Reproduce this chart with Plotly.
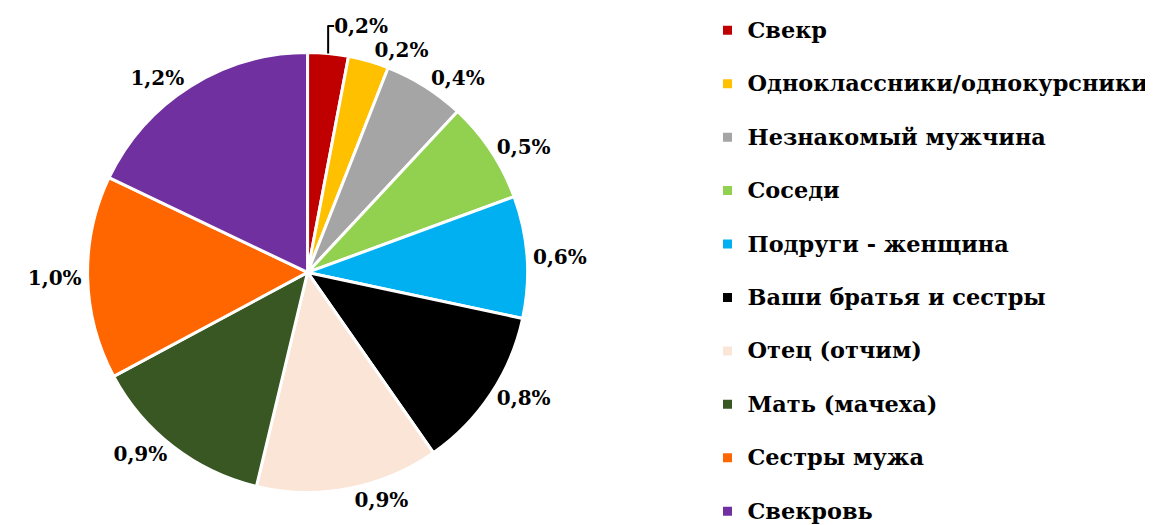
import plotly.graph_objects as go

categories = [
    "Свекр",
    "Одноклассники/однокурсники",
    "Незнакомый мужчина",
    "Соседи",
    "Подруги - женщина",
    "Ваши братья и сестры",
    "Отец (отчим)",
    "Мать (мачеха)",
    "Сестры мужа",
    "Свекровь",
]
shares = [0.2, 0.2, 0.4, 0.5, 0.6, 0.8, 0.9, 0.9, 1.0, 1.2]
colors = ["#C00000", "#FFC000", "#A5A5A5", "#92D050", "#00B0F0",
          "#000000", "#FBE5D6", "#385723", "#FF6600", "#7030A0"]

font_family = "DejaVu Serif"

# larger text inside the label, blank line below it to space the items like the original
legend_labels = ['<span style="font-size:22.4px">' + c + "</span>" for c in categories]
legend_labels = [lab + "<br> " for lab in legend_labels[:-1]] + [legend_labels[-1]]

fig = go.Figure(go.Pie(
    labels=legend_labels,
    values=shares,
    sort=False,
    direction="clockwise",
    rotation=0,
    marker=dict(colors=colors, line=dict(color="white", width=3)),
    texttemplate="%{value:.1f}%",
    textposition="outside",
    textfont=dict(size=20, color="#000000", family=font_family, weight="bold"),
    domain=dict(x=[0.069, 0.4506], y=[0.0773, 0.9153]),
    hovertemplate="%{value:.1f}%<extra></extra>",
))

fig.update_layout(
    width=1153,
    height=525,
    separators=", ",
    showlegend=True,
    legend=dict(
        x=0.6067,
        y=0.994,
        xanchor="left",
        yanchor="top",
        valign="top",
        font=dict(size=19.4, color="#000000", family=font_family, weight="bold"),
        itemwidth=30,
        maxheight=1,
    ),
    margin=dict(t=0, b=0, l=0, r=0),
    paper_bgcolor="white",
    plot_bgcolor="white",
)

fig.write_html("out.html")
